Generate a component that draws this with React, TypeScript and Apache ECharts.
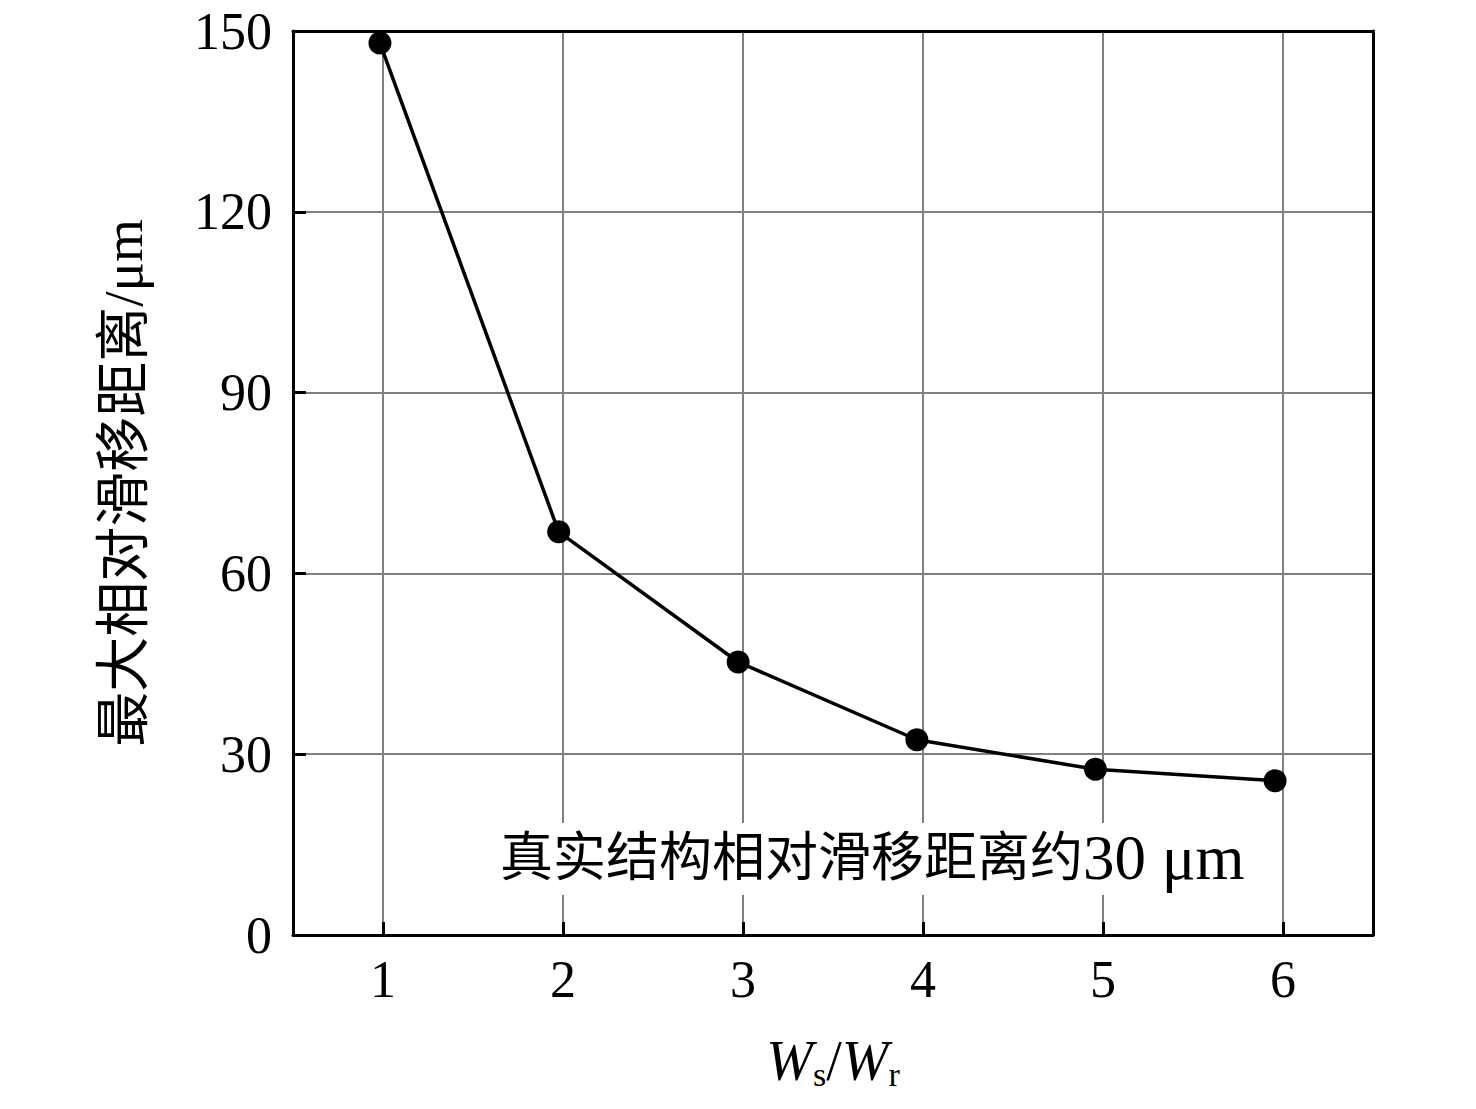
import React, { useEffect, useRef } from "react";
import * as echarts from "echarts";

const ratioValues = [0.983, 1.976, 2.973, 3.966, 4.958, 5.956];
const slipValues = [148.0, 66.9, 45.3, 32.4, 27.5, 25.6];
const yTicks = [0, 30, 60, 90, 120, 150];
const yAxisTitle = "最大相对滑移距离/μm";
const noteCjk = "真实结构相对滑移距离约";
const noteLatin = "30 μm";

const SERIF = "'Liberation Serif', 'Times New Roman', 'Noto Sans CJK SC', serif";

export default function App() {
  const ref = useRef<HTMLDivElement>(null);
  useEffect(() => {
    if (!ref.current) return;
    const chart = echarts.init(ref.current, undefined, { renderer: "svg" });
    const frameAxis = {
      axisLine: { show: true, onZero: false, lineStyle: { color: "#000", width: 3 } },
      axisTick: { show: false },
      axisLabel: { show: false },
      splitLine: { show: false },
    };
    const option: any = {
      animation: false,
      backgroundColor: "#ffffff",
      grid: {
        left: 293,
        top: 31,
        width: 1080,
        height: 904,
        show: false,
      },
      xAxis: [
        {
          type: "value",
          min: 0.5,
          max: 6.5,
          splitNumber: 6,
          name: "{w|W}{s|s}{n|/}{w|W}{s|r}",
          nameLocation: "middle",
          nameGap: 96,
          nameTextStyle: {
            rich: {
              w: { fontFamily: SERIF, fontStyle: "italic", fontSize: 56, lineHeight: 60, color: "#000" },
              n: { fontFamily: SERIF, fontSize: 56, lineHeight: 60, color: "#000" },
              s: { fontFamily: SERIF, fontSize: 34, lineHeight: 20, verticalAlign: "bottom", color: "#000" },
            },
          },
          axisLine: { show: true, onZero: false, lineStyle: { color: "#000", width: 3 } },
          axisTick: { show: true, inside: true, length: 13, lineStyle: { color: "#000", width: 3 } },
          axisLabel: {
            margin: 18,
            fontFamily: SERIF,
            fontSize: 52,
            color: "#000",
            showMinLabel: false,
            showMaxLabel: false,
            formatter: (v: number) => (Math.abs(v - Math.round(v)) < 1e-6 ? String(Math.round(v)) : ""),
          },
          splitLine: { show: true, lineStyle: { color: "#808080", width: 2 } },
          z: 3,
        },
        { type: "value", position: "top", min: 0.5, max: 6.5, ...frameAxis, z: 4 },
      ],
      yAxis: [
        {
          type: "value",
          min: yTicks[0],
          max: yTicks[yTicks.length - 1],
          interval: 30,
          name: yAxisTitle,
          nameLocation: "middle",
          nameGap: 142,
          nameRotate: 90,
          nameTextStyle: { fontFamily: SERIF, fontSize: 55, color: "#000" },
          axisLine: { show: true, onZero: false, lineStyle: { color: "#000", width: 3 } },
          axisTick: { show: true, inside: true, length: 13, lineStyle: { color: "#000", width: 3 } },
          axisLabel: { margin: 21, fontFamily: SERIF, fontSize: 52, color: "#000", padding: [0, 0, 6, 0] },
          splitLine: { show: true, lineStyle: { color: "#808080", width: 2 } },
          z: 3,
        },
        { type: "value", position: "right", min: 0, max: 150, ...frameAxis, z: 4 },
      ],
      series: [
        {
          type: "line",
          xAxisIndex: 0,
          yAxisIndex: 0,
          data: ratioValues.map((x, i) => [x, slipValues[i]]),
          symbol: "circle",
          symbolSize: 23,
          itemStyle: { color: "#000" },
          lineStyle: { color: "#000", width: 3.5 },
          z: 5,
        },
      ],
      graphic: [
        {
          type: "rect",
          shape: { x: 495, y: 823, width: 762, height: 72 },
          style: { fill: "#fff" },
          z: 10,
        },
        {
          type: "text",
          x: 500,
          y: 858,
          z: 11,
          style: {
            text: "{c|" + noteCjk + "}{l|" + noteLatin + "}",
            verticalAlign: "middle",
            align: "left",
            rich: {
              c: { fontFamily: SERIF, fontSize: 53, fill: "#000" },
              l: { fontFamily: SERIF, fontSize: 63, fill: "#000" },
            },
          },
        },
      ],
    };
    chart.setOption(option);
    return () => chart.dispose();
  }, []);
  return (
    <div
      ref={ref}
      style={{ position: "fixed", left: 0, top: 0, width: 1476, height: 1109, background: "#fff" }}
    />
  );
}
